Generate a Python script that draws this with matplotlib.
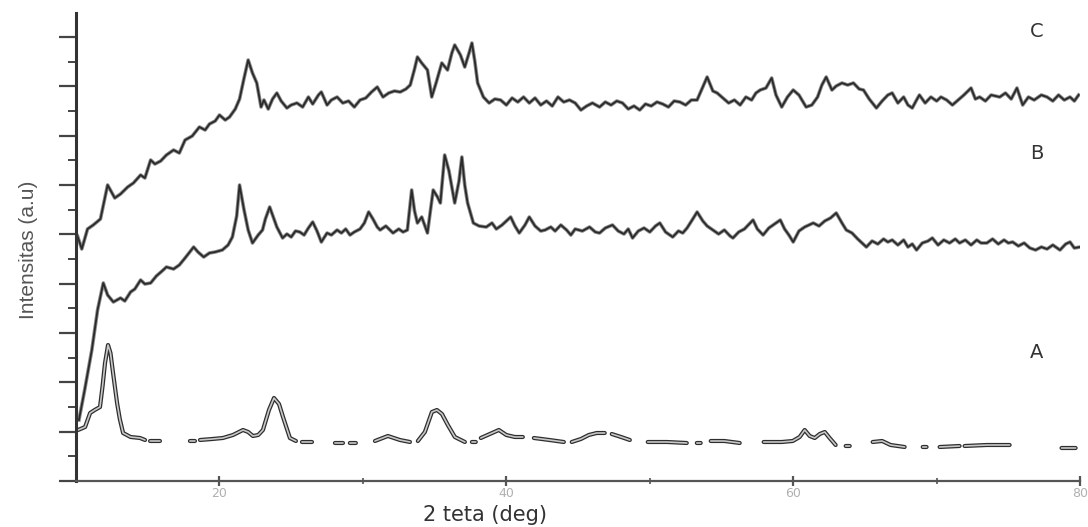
import matplotlib
matplotlib.use('Agg')
import matplotlib.pyplot as plt
from matplotlib.ticker import FixedLocator, MultipleLocator
import numpy as np

nan = np.nan

# sample C (top trace): 2 theta [deg], intensity [a.u.]
c_x = [10.1, 10.4, 10.8, 11.2, 11.7, 12.2, 12.7, 13.1, 13.6, 14.0, 14.5, 14.8, 15.2, 15.5, 15.9,
       16.3, 16.8, 17.2, 17.6, 18.1, 18.6, 19.0, 19.3, 19.7, 20.0, 20.4, 20.7, 21.1, 21.4, 21.7,
       22.0, 22.3, 22.6, 22.9, 23.1, 23.4, 23.7, 24.0, 24.3, 24.7, 25.0, 25.4, 25.8, 26.2, 26.5,
       26.9, 27.1, 27.5, 27.8, 28.2, 28.6, 29.0, 29.4, 29.8, 30.2, 30.6, 31.0, 31.4, 31.8, 32.2,
       32.6, 33.0, 33.3, 33.6, 33.8, 34.1, 34.5, 34.8, 35.1, 35.5, 35.9, 36.2, 36.4, 36.8, 37.1,
       37.4, 37.6, 37.8, 38.0, 38.4, 38.8, 39.2, 39.6, 40.0, 40.4, 40.8, 41.2, 41.6, 42.0, 42.4,
       42.8, 43.2, 43.6, 44.0, 44.4, 44.8, 45.2, 45.6, 46.0, 46.5, 46.9, 47.3, 47.7, 48.1, 48.5,
       48.9, 49.3, 49.7, 50.1, 50.5, 50.9, 51.3, 51.7, 52.1, 52.5, 52.9, 53.3, 53.7, 54.0, 54.4,
       54.7, 55.1, 55.5, 55.9, 56.3, 56.7, 57.1, 57.4, 57.7, 58.1, 58.5, 58.8, 59.2, 59.6, 60.0,
       60.4, 60.9, 61.3, 61.7, 62.0, 62.3, 62.7, 63.0, 63.4, 63.8, 64.2, 64.6, 64.9, 65.3, 65.8,
       66.2, 66.6, 66.9, 67.3, 67.7, 68.0, 68.3, 68.6, 68.8, 69.2, 69.6, 70.0, 70.3, 70.7, 71.1,
       71.5, 71.9, 72.4, 72.7, 73.0, 73.4, 73.8, 74.4, 74.8, 75.2, 75.6, 76.0, 76.4, 76.8, 77.3,
       77.7, 78.1, 78.5, 78.9, 79.3, 79.6, 79.9]
c_y = [245, 232, 252, 256, 262, 296, 283, 287, 294, 298, 306, 303, 321, 317, 320,
       326, 331, 328, 341, 345, 354, 351, 357, 360, 366, 361, 364, 372, 382, 402,
       421, 408, 398, 374, 381, 372, 382, 388, 380, 373, 376, 378, 374, 384, 377,
       386, 389, 376, 381, 384, 378, 380, 374, 381, 383, 389, 394, 384, 388, 390,
       389, 392, 396, 412, 424, 418, 411, 384, 398, 418, 411, 428, 436, 426, 414,
       428, 438, 420, 398, 384, 378, 382, 381, 376, 383, 379, 384, 378, 383, 376,
       380, 375, 384, 379, 381, 378, 371, 375, 378, 374, 379, 376, 380, 378, 372,
       375, 371, 377, 375, 379, 377, 374, 380, 379, 376, 381, 381, 394, 404, 390,
       388, 383, 378, 381, 376, 384, 381, 388, 391, 393, 403, 386, 374, 384, 391,
       386, 374, 376, 384, 396, 404, 391, 395, 398, 396, 398, 392, 391, 382, 373,
       380, 386, 388, 378, 384, 376, 373, 381, 386, 378, 384, 380, 384, 381, 376,
       381, 386, 393, 382, 384, 380, 386, 384, 388, 382, 393, 376, 384, 381, 386,
       384, 380, 386, 381, 384, 380, 386]

# sample B (middle trace)
b_x = [10.2, 10.6, 11.1, 11.5, 11.9, 12.2, 12.6, 13.1, 13.4, 13.8, 14.1, 14.5, 14.8, 15.2, 15.6,
       16.0, 16.3, 16.8, 17.2, 17.6, 18.2, 18.5, 18.9, 19.3, 19.7, 20.2, 20.6, 20.9, 21.2, 21.4,
       21.7, 22.0, 22.3, 22.7, 23.0, 23.2, 23.5, 23.8, 24.0, 24.4, 24.7, 25.0, 25.3, 25.6, 25.9,
       26.2, 26.5, 26.8, 27.1, 27.5, 27.8, 28.2, 28.5, 28.8, 29.1, 29.4, 29.8, 30.1, 30.4, 30.7,
       31.0, 31.2, 31.6, 32.1, 32.5, 32.8, 33.1, 33.4, 33.6, 33.8, 34.1, 34.5, 34.9, 35.2, 35.4,
       35.7, 36.0, 36.4, 36.7, 36.9, 37.1, 37.3, 37.7, 38.1, 38.6, 39.0, 39.3, 39.7, 40.0, 40.3,
       40.6, 40.9, 41.3, 41.6, 42.0, 42.4, 42.7, 43.1, 43.4, 43.8, 44.2, 44.5, 44.8, 45.3, 45.8,
       46.2, 46.5, 46.9, 47.4, 47.8, 48.2, 48.5, 48.8, 49.2, 49.6, 50.0, 50.4, 50.7, 51.1, 51.6,
       52.0, 52.3, 52.6, 53.0, 53.3, 53.7, 54.0, 54.4, 54.8, 55.2, 55.6, 55.8, 56.2, 56.6, 57.2,
       57.5, 57.9, 58.3, 58.7, 59.1, 59.4, 59.7, 60.0, 60.4, 60.8, 61.4, 61.8, 62.2, 62.6, 63.0,
       63.4, 63.7, 64.1, 64.5, 64.8, 65.1, 65.5, 65.9, 66.3, 66.6, 66.9, 67.3, 67.7, 68.0, 68.3,
       68.6, 69.0, 69.4, 69.7, 70.1, 70.5, 70.9, 71.3, 71.6, 72.0, 72.4, 72.8, 73.1, 73.5, 73.9,
       74.3, 74.7, 75.0, 75.3, 75.7, 76.1, 76.5, 76.9, 77.3, 77.7, 78.1, 78.6, 79.0, 79.3, 79.6,
       80.0]
b_y = [61, 91, 131, 171, 198, 186, 179, 183, 180, 189, 192, 201, 197, 198, 205,
       210, 214, 212, 216, 223, 234, 229, 224, 228, 229, 231, 236, 244, 265, 296,
       272, 251, 238, 246, 251, 262, 274, 262, 254, 243, 247, 244, 250, 249, 246,
       253, 259, 250, 239, 248, 246, 251, 248, 252, 246, 249, 252, 258, 269, 262,
       254, 251, 255, 248, 252, 249, 251, 291, 270, 258, 264, 248, 291, 284, 278,
       326, 310, 278, 300, 324, 296, 278, 258, 255, 254, 258, 252, 256, 260, 264,
       255, 248, 256, 264, 255, 250, 251, 254, 250, 256, 251, 246, 252, 250, 254,
       249, 248, 253, 256, 250, 247, 252, 243, 250, 253, 249, 255, 258, 249, 244,
       250, 248, 253, 262, 269, 260, 255, 251, 247, 251, 245, 243, 249, 252, 261,
       252, 246, 253, 257, 261, 252, 246, 239, 250, 254, 258, 255, 260, 263, 268,
       258, 251, 248, 242, 238, 234, 240, 237, 242, 239, 241, 236, 241, 234, 237,
       231, 238, 240, 243, 236, 241, 238, 242, 238, 241, 236, 241, 238, 238, 242,
       237, 241, 238, 239, 235, 238, 233, 231, 234, 232, 236, 231, 237, 239, 233,
       234]

# sample A (bottom trace, broken in the scan -> nan gaps)
a_x = [10.14, 10.63, 10.98, 11.3, 11.67, 11.85, 12.02, 12.23, 12.4, 12.58, 12.86, 13.05, 13.28, 13.8, 14.46, 14.81, nan,
       15.16, 15.85, nan,
       17.94, 18.29, nan,
       18.64, 19.5, 20.24, 20.94, 21.64, 22.0, 22.33, 22.7, 23.03, 23.45, 23.80, 24.15, 24.43, 24.7, 24.91, 25.33, nan,
       25.75, 26.45, nan,
       28.05, 28.61, nan,
       29.09, 29.51, nan,
       30.84, 31.74, 32.58, 33.28, nan,
       33.83, 34.32, 34.81, 35.16, 35.51, 35.92, 36.41, 37.11, nan,
       37.60, 37.87, nan,
       38.22, 39.0, 39.48, 40.0, 40.59, 41.15, nan,
       41.92, 43.0, 44.01, nan,
       44.56, 45.2, 45.75, 46.3, 46.86, nan,
       47.35, 48.0, 48.61, nan,
       49.86, 51.2, 52.58, nan,
       53.28, 53.55, nan,
       54.25, 55.2, 56.27, nan,
       57.94, 59.2, 59.97, 60.45, 60.80, 61.15, 61.50, 61.85, 62.20, 62.54, 62.96, nan,
       63.66, 63.94, nan,
       65.54, 66.2, 66.79, 67.77, nan,
       69.03, 69.30, nan,
       70.21, 71.60, nan,
       71.95, 73.5, 75.09, nan,
       78.71, 79.69]
a_y = [51, 54, 68, 71, 74, 95, 118, 136, 128, 108, 78, 62, 48, 44, 43, 41, nan,
       40, 40, nan,
       40, 40, nan,
       41, 42, 43, 46, 51, 49, 45, 46, 51, 71, 83, 77, 64, 52, 43, 40, nan,
       39, 39, nan,
       38, 38, nan,
       38, 38, nan,
       40, 45, 41, 39, nan,
       40, 49, 69, 71, 67, 56, 44, 39, nan,
       39, 39, nan,
       43, 48, 51, 46, 44, 44, nan,
       43, 41, 39, nan,
       39, 42, 46, 48, 48, nan,
       47, 44, 41, nan,
       39, 39, 38, nan,
       38, 38, nan,
       40, 40, 38, nan,
       39, 39, 40, 44, 51, 45, 43, 47, 49, 43, 36, nan,
       35, 35, nan,
       39, 40, 36, 34, nan,
       34, 34, nan,
       34, 35, nan,
       35, 36, 36, nan,
       33, 33]

trace_labels = ['C', 'B', 'A']
label_y = [450, 328, 128]

fig = plt.figure(figsize=(10.88, 5.27), dpi=100)
ax = fig.add_axes([0.0699, 0.0873, 0.9228, 0.888])

# scanned look: soft grey halo under a dark core
for xs, ys in [(c_x, c_y), (b_x, b_y)]:
    ax.plot(xs, ys, color='#8a8a8a', lw=2.6, solid_joinstyle='round')
    ax.plot(xs, ys, color='#2a2a2a', lw=1.3, solid_joinstyle='round')
# hollow outline for A
ax.plot(a_x, a_y, color='#2e2e2e', lw=3.0, solid_capstyle='round')
ax.plot(a_x, a_y, color='#c8c8c8', lw=1.2, solid_capstyle='round')

for lab, yy in zip(trace_labels, label_y):
    ax.text(77.0, yy, lab, fontsize=14, color='#333333', ha='center', va='center')

ax.set_xlim(10, 80)
ax.set_ylim(0, 468)

for side in ['top', 'right']:
    ax.spines[side].set_visible(False)
ax.spines['left'].set_linewidth(2.2)
ax.spines['left'].set_color('#333333')
ax.spines['bottom'].set_linewidth(1.6)
ax.spines['bottom'].set_color('#555555')

ax.xaxis.set_major_locator(FixedLocator([20, 40, 60, 80]))
ax.xaxis.set_minor_locator(FixedLocator([30, 50, 70]))
step = 444 / 18
ax.yaxis.set_major_locator(MultipleLocator(2 * step))
ax.yaxis.set_minor_locator(MultipleLocator(step))
ax.set_yticklabels([])
ax.tick_params(axis='y', which='major', direction='out', length=12, width=1.6, color='#444444')
ax.tick_params(axis='y', which='minor', direction='out', length=6, width=1.4, color='#444444')
ax.tick_params(axis='x', which='major', direction='inout', length=7, width=1.6, color='#555555',
               labelsize=9, labelcolor='#b0b0b0', pad=1)
ax.tick_params(axis='x', which='minor', direction='inout', length=4, width=1.2, color='#555555')

ax.set_xlabel('2 teta (deg)', fontsize=15, color='#333333')
ax.xaxis.set_label_coords(0.407, -0.052)
ax.set_ylabel('Intensitas (a.u)', fontsize=15, color='#555555',
              family=['Liberation Sans Narrow', 'Liberation Sans'])
ax.yaxis.set_label_coords(-0.038, 0.494)

fig.savefig('out.png', dpi=100)
